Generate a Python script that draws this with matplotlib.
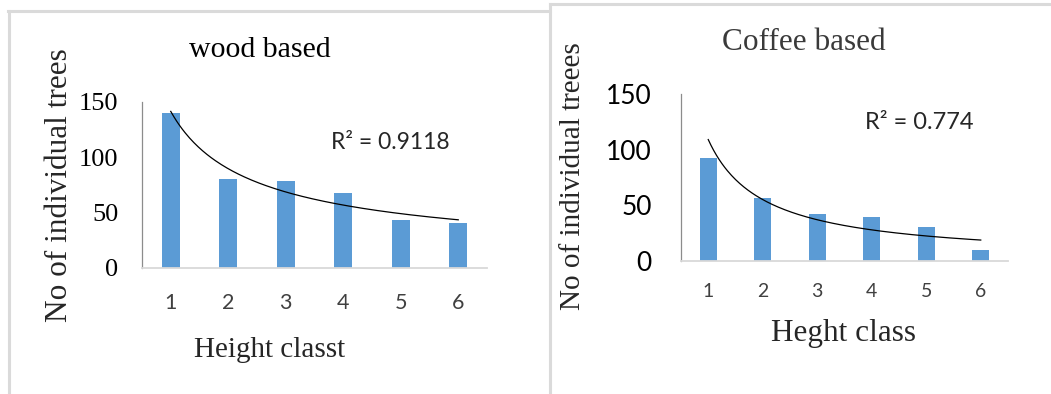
import numpy as np
import matplotlib
matplotlib.use("Agg")
import matplotlib.pyplot as plt
from matplotlib.lines import Line2D

# data
height_class = [1, 2, 3, 4, 5, 6]
wood_trees = [140, 80, 79, 68, 43, 41]
coffee_trees = [92, 56, 42, 39, 30, 10]
wood_r2 = "0.9118"
coffee_r2 = "0.774"
yticks = [0, 50, 100, 150]

bar_color = "#5B9BD5"
serif = ["Liberation Serif", "DejaVu Serif"]
sans = ["Lato", "DejaVu Sans"]

W, H = 1051, 394
fig = plt.figure(figsize=(W / 100, H / 100), dpi=100)


def px(x, y):
    # pixel -> figure fraction
    return x / W, 1 - y / H


# panel borders (light grey frames round each chart)
border = dict(color="#DADADA", lw=2.2, transform=fig.transFigure)
for xs, ys in [([9, 9], [394, 11]), ([8, 550], [11, 11]),
               ([550, 550], [394, 3.5]), ([550, 1051], [3.5, 3.5])]:
    fig.add_artist(Line2D([x / W for x in xs], [1 - y / H for y in ys], **border))


def power_fit(x, y):
    b, lna = np.polyfit(np.log(x), np.log(y), 1)
    return np.exp(lna), b


def draw_panel(rect, values, r2, title, xlabel, ylabel, sty):
    ax = fig.add_axes(rect)
    x = np.array(height_class)
    ax.bar(x, values, width=0.31, color=bar_color, zorder=2)
    a, b = power_fit(x, np.array(values, dtype=float))
    xs = np.linspace(1, 6, 200)
    ax.plot(xs, a * xs ** b, color="black", lw=0.9, zorder=3)

    ax.set_xlim(0.5, 6.5)
    ax.set_ylim(0, 150)
    ax.set_yticks(yticks)
    ax.set_xticks(height_class)
    ax.spines["top"].set_visible(False)
    ax.spines["right"].set_visible(False)
    ax.spines["left"].set_color("#8C8C8C")
    ax.spines["left"].set_linewidth(0.9)
    ax.spines["bottom"].set_color("#D9D9D9")
    ax.spines["bottom"].set_linewidth(1.3)
    ax.tick_params(length=0)
    ax.tick_params(axis="y", pad=sty["ypad"])
    ax.tick_params(axis="x", pad=sty["xpad"])
    for lab in ax.get_yticklabels():
        lab.set_family(sty["yfont"])
        lab.set_fontsize(sty["ysize"])
        lab.set_color("black")
    for lab in ax.get_xticklabels():
        lab.set_family(sans)
        lab.set_fontsize(sty["xsize"])
        lab.set_color("#404040")

    ax.text(sty["title_pos"][0], sty["title_pos"][1], title, transform=ax.transAxes,
            ha="center", va="center", family=serif, fontsize=sty["title_size"],
            color=sty["title_color"])
    ax.text(sty["xl_pos"][0], sty["xl_pos"][1], xlabel, transform=ax.transAxes,
            ha="center", va="center", family=serif, fontsize=sty["xl_size"],
            color="#262626")
    ax.text(sty["yl_pos"][0], sty["yl_pos"][1], ylabel, transform=ax.transAxes,
            ha="center", va="center", rotation=90, family=serif,
            fontsize=sty["yl_size"], color="#262626")
    ax.text(sty["r2_pos"][0], sty["r2_pos"][1], "R² = " + r2, transform=ax.transAxes,
            ha="left", va="center", family=sans, fontsize=sty["r2_size"],
            color="#262626")
    return ax


# left: wood based
l0 = px(142, 268)
l1 = px(487, 102)
draw_panel([l0[0], l0[1], l1[0] - l0[0], l1[1] - l0[1]], wood_trees, wood_r2,
           "wood based", "Height classt", "No of individual trees",
           dict(ypad=17, xpad=18, yfont=serif, ysize=19, xsize=15.5,
                title_pos=(0.342, 1.313), title_size=21.5, title_color="black",
                xl_pos=(0.371, -0.494), xl_size=21,
                yl_pos=(-0.238, 0.5), yl_size=22.5,
                r2_pos=(0.548, 0.759), r2_size=16.5))

# right: coffee based
r0 = px(681, 260.7)
r1 = px(1008, 94)
draw_panel([r0[0], r0[1], r1[0] - r0[0], r1[1] - r0[1]], coffee_trees, coffee_r2,
           "Coffee based", "Heght class", "No of individual treees",
           dict(ypad=21, xpad=16, yfont=sans, ysize=19, xsize=14,
                title_pos=(0.376, 1.306), title_size=22.5, title_color="#3A3A3A",
                xl_pos=(0.498, -0.434), xl_size=22.5,
                yl_pos=(-0.330, 0.505), yl_size=21,
                r2_pos=(0.563, 0.832), r2_size=17))

fig.savefig("out.png", dpi=100, facecolor="white")
